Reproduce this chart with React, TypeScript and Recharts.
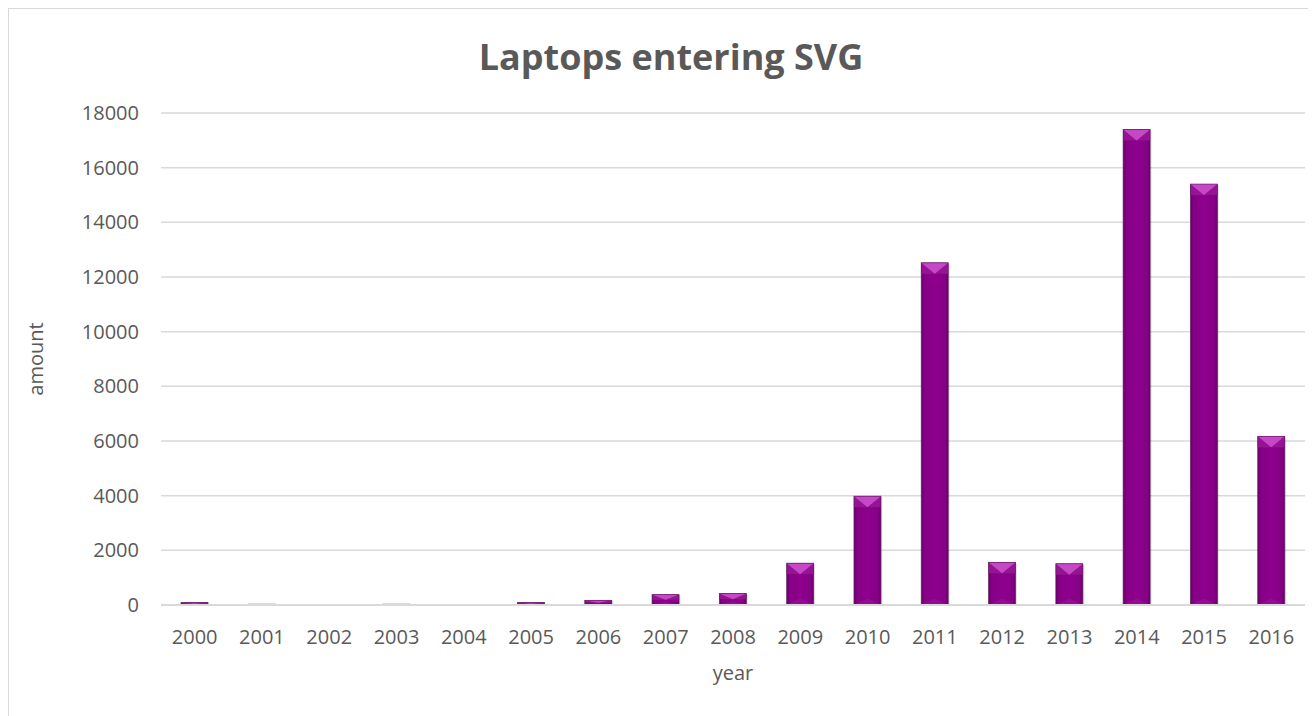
import React from 'react';
import { BarChart, Bar, XAxis, YAxis, CartesianGrid } from 'recharts';

const years = ['2000', '2001', '2002', '2003', '2004', '2005', '2006', '2007', '2008', '2009', '2010', '2011', '2012', '2013', '2014', '2015', '2016'];
const amounts = [90, 30, 0, 30, 0, 90, 170, 380, 420, 1530, 3980, 12520, 1560, 1510, 17400, 15400, 6170];
const yTicks = [0, 2000, 4000, 6000, 8000, 10000, 12000, 14000, 16000, 18000];

const data = years.map((year, i) => ({
  year,
  amount: amounts[i]
}));

const textColor = '#595959';
const font = '"Open Sans", sans-serif';

// bar with an "angle" bevel on top, like the office chart style
const BevelBar = (props: any) => {
  const { x, y, width, height, index } = props;
  if (height == null || height <= 0.2) return null;
  const d = Math.min(11, height / 2);
  const cx = x + width / 2;
  const gid = `barBody${index}`;
  return <g>
      <defs>
        <linearGradient id={gid} x1="0" y1="0" x2="1" y2="0">
          <stop offset="0%" stopColor="#680068" />
          <stop offset="12%" stopColor="#860086" />
          <stop offset="50%" stopColor="#8e008e" />
          <stop offset="88%" stopColor="#860086" />
          <stop offset="100%" stopColor="#680068" />
        </linearGradient>
      </defs>
      <rect x={x + 1.5} y={y + 1} width={width} height={height} fill="#000" opacity={0.12} />
      <rect x={x} y={y} width={width} height={height} fill={`url(#${gid})`} />
      <polygon points={`${x},${y} ${x + width},${y} ${x + width},${y + d} ${x},${y + d}`} fill="#941494" />
      <polygon points={`${x},${y} ${x + width},${y} ${cx},${y + d}`} fill="#c648c6" />
      <polygon points={`${x},${y + height} ${x + width},${y + height} ${cx},${y + height - d * 0.6}`} fill="#991a99" opacity={0.5} />
      <rect x={x} y={y} width={width} height={height} fill="none" stroke="#5a1a5a" strokeWidth={0.8} strokeOpacity={0.8} />
    </g>;
};

const AmountLabel = (props: any) => {
  const { viewBox } = props;
  const cx = 26;
  const cy = viewBox.y + viewBox.height / 2;
  return <text x={cx} y={cy} transform={`rotate(-90, ${cx}, ${cy})`} textAnchor="middle" dominantBaseline="central" fill={textColor} fontSize={20} fontFamily={font}>
      amount
    </text>;
};

export default function App() {
  return <div style={{
    position: 'relative',
    width: 1308,
    height: 708,
    borderTop: '1px solid #d9d9d9',
    borderLeft: '1px solid #d9d9d9',
    background: '#fff',
    overflow: 'hidden'
  }}>
      <div style={{
      position: 'absolute',
      left: 362,
      top: 30,
      width: 600,
      textAlign: 'center',
      fontFamily: font,
      fontWeight: 700,
      fontSize: 36,
      lineHeight: '36px',
      color: textColor
    }}>
        Laptops entering SVG
      </div>
      <BarChart width={1308} height={708} data={data} margin={{
      top: 104,
      right: 12,
      left: 0,
      bottom: 0
    }} barSize={27}>
        <CartesianGrid vertical={false} stroke="#d9d9d9" strokeWidth={1.5} />
        <XAxis dataKey="year" height={112} tickLine={false} axisLine={{
        stroke: '#d9d9d9',
        strokeWidth: 2
      }} tickSize={20} tickMargin={5} tick={{
        fill: textColor,
        fontSize: 20,
        fontFamily: font
      }} interval={0} label={{
        value: 'year',
        position: 'insideTop',
        offset: 61,
        fill: textColor,
        fontSize: 20,
        fontFamily: font
      }} />
        <YAxis width={152} domain={[0, 18000]} ticks={yTicks} tickLine={false} axisLine={false} tickSize={20} tickMargin={2} tick={{
        fill: textColor,
        fontSize: 20,
        fontFamily: font
      }} label={<AmountLabel />} />
        <Bar dataKey="amount" shape={<BevelBar />} isAnimationActive={false} />
      </BarChart>
    </div>;
}
